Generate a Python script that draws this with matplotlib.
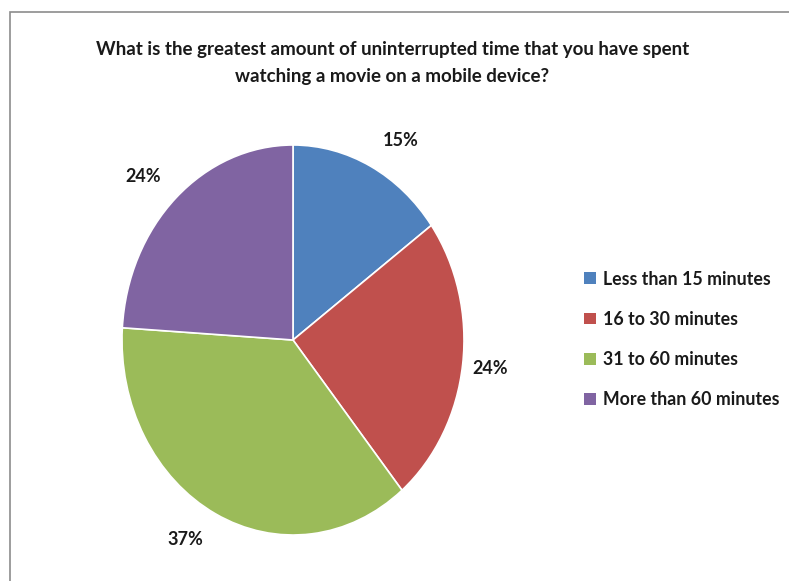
import matplotlib.pyplot as plt
import numpy as np
from matplotlib.patches import Rectangle, Patch

plt.rcParams['font.family'] = ['Lato', 'DejaVu Sans']

# data
categories = ['Less than 15 minutes', '16 to 30 minutes', '31 to 60 minutes', 'More than 60 minutes']
shares = [15, 24, 37, 24]
colors = ['#4F81BD', '#C0504D', '#9BBB59', '#8064A2']
title = 'What is the greatest amount of uninterrupted time that you have spent\nwatching a movie on a mobile device?'

fig = plt.figure(figsize=(7.89, 5.81), dpi=100)

# chart frame (only left and top edges are visible in the crop)
fig.patches.append(Rectangle((10 / 789, -0.2), 2, 0.2 + 1 - 12 / 581, transform=fig.transFigure,
                             fill=False, edgecolor='#8c8c8c', linewidth=1.2))

fig.text(0.497, 0.892, title, ha='center', va='center', fontsize=13.5, fontweight='bold',
         color='#1a1a1a', linespacing=1.7)

# pie is drawn as an ellipse (taller than wide), like the source
ax = fig.add_axes([122 / 789, 1 - 535 / 581, 342 / 789, 390 / 581])
wedges, texts, autotexts = ax.pie(shares, colors=colors, startangle=90, counterclock=False,
                                  autopct='%d%%', pctdistance=1.15,
                                  wedgeprops=dict(edgecolor='white', linewidth=1.2))
ax.set_aspect('auto')
ax.set_xlim(-1, 1)
ax.set_ylim(-1, 1)

for w, t in zip(wedges, autotexts):
    ang = np.deg2rad((w.theta1 + w.theta2) / 2)
    x, y = t.get_position()
    t.set_position((x + 0.12 * np.sign(np.cos(ang)) * abs(np.sin(ang)), y))
    t.set_fontsize(13)
    t.set_fontweight('bold')
    t.set_color('#1a1a1a')

handles = [Patch(facecolor=c, edgecolor='none') for c in colors]
fig.legend(handles, categories, loc='center left', bbox_to_anchor=(0.72, 0.416), frameon=False,
           prop=dict(size=12.8, weight='bold'), labelspacing=1.3, handlelength=0.65, handleheight=0.65,
           handletextpad=0.4, labelcolor='#1a1a1a')

fig.savefig('out.png', dpi=100)
